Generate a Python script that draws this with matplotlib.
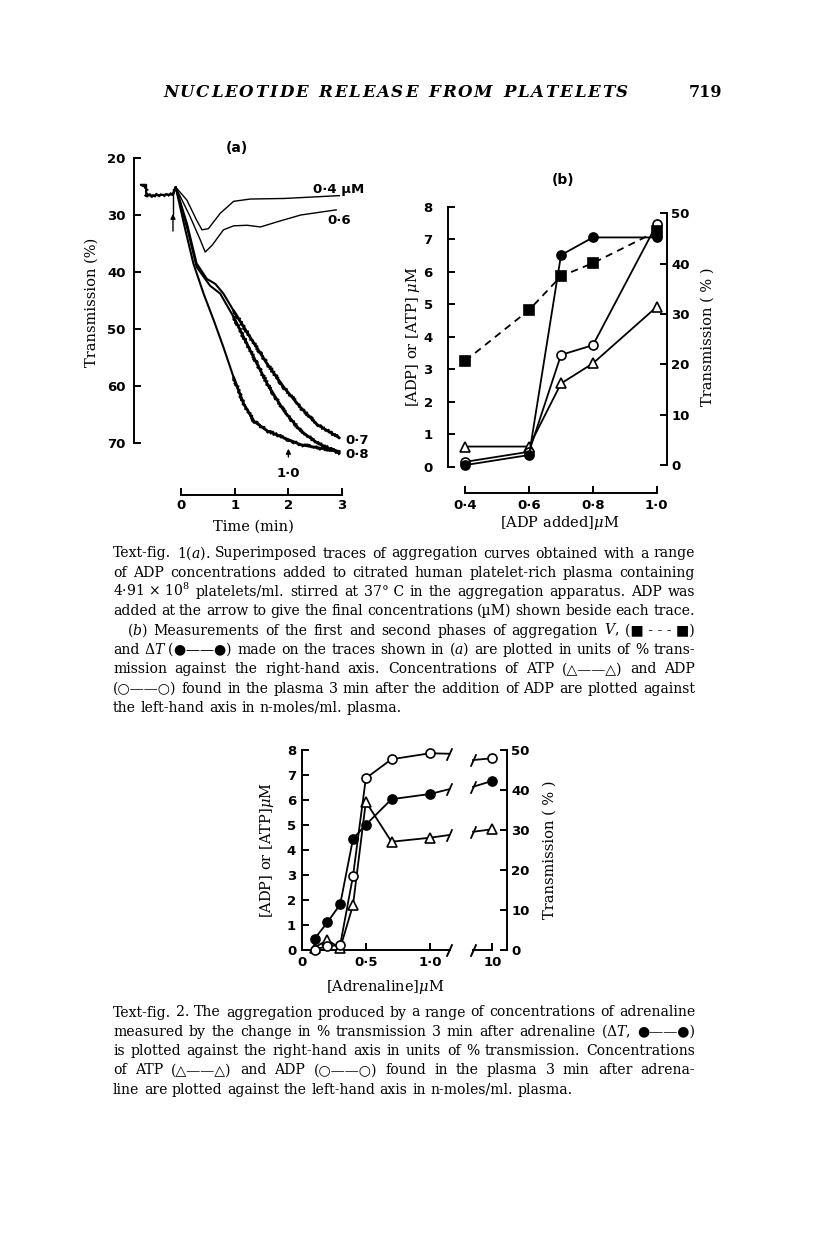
import matplotlib
matplotlib.use("Agg")
import matplotlib.pyplot as plt
import matplotlib.path as mpath

# ---------------- data ----------------
# Text-fig. 1(a): recorder traces, time (min) vs transmission (%)
base_t = [-0.75, -0.65, -0.65, -0.4, -0.15]
base_v = [24.7, 24.7, 26.6, 26.5, 26.4]

t04 = [-0.15, -0.1, 0.11, 0.29, 0.39, 0.51, 0.73, 0.98, 1.29, 1.92, 2.95]
v04 = [26.4, 25.1, 27.4, 30.9, 32.6, 32.4, 29.7, 27.6, 27.2, 27.1, 26.6]
t06 = [-0.15, -0.1, 0.17, 0.36, 0.45, 0.58, 0.79, 0.98, 1.23, 1.48, 1.79, 2.23, 2.89]
v06 = [26.4, 25.1, 30.3, 34.4, 36.5, 35.3, 32.6, 31.9, 31.8, 32.1, 31.2, 30.0, 29.1]
t07 = [-0.15, -0.1, 0.11, 0.29, 0.48, 0.64, 0.79, 0.98, 1.29, 1.61, 1.92, 2.23, 2.54, 2.95]
v07 = [26.4, 25.1, 31.5, 38.5, 41.2, 42.1, 43.8, 46.8, 51.5, 56.2, 60.3, 63.8, 66.8, 69.1]
t08 = [-0.15, -0.1, 0.11, 0.29, 0.54, 0.73, 0.98, 1.29, 1.61, 1.92, 2.23, 2.54, 2.95]
v08 = [26.4, 25.1, 32.1, 39.1, 42.4, 43.8, 47.9, 53.8, 59.7, 64.4, 67.9, 70.0, 71.8]
t10 = [-0.15, -0.1, 0.08, 0.23, 0.42, 0.61, 0.79, 0.98, 1.17, 1.36, 1.61, 1.92, 2.23, 2.95]
v10 = [26.4, 25.1, 32.6, 38.5, 43.8, 48.5, 53.2, 58.5, 63.2, 66.2, 67.9, 69.1, 70.3, 71.5]

a_xticks = [0, 1, 2, 3]
a_xlabels = ["0", "1", "2", "3"]
a_yticks = [20, 30, 40, 50, 60, 70]

# Text-fig. 1(b)
adp_added = [0.4, 0.6, 0.7, 0.8, 1.0]
b_dT = [0.0, 2.0, 41.7, 45.2, 45.2]     # right axis, % transmission
b_V = [20.7, 30.8, 37.5, 40.1, 46.4]    # right axis, % transmission
b_adp = [0.15, 0.46, 3.44, 3.74, 7.46]  # left axis
b_atp = [0.62, 0.62, 2.56, 3.18, 4.92]  # left axis
b_xlabels = ["0·4", "0·6", "0·8", "1·0"]

# Text-fig. 2
adr = [0.1, 0.2, 0.3, 0.4, 0.5, 0.7, 1.0]
adr_hi = 10
f2_dT = [2.8, 6.9, 11.4, 27.8, 31.3, 37.7, 39.0]
f2_dT_hi = 42.3
f2_adp = [0.02, 0.15, 0.2, 2.96, 6.87, 7.63, 7.87]
f2_adp_hi = 7.67
f2_atp = [0.1, 0.4, 0.07, 1.8, 5.93, 4.33, 4.49]
f2_atp_hi = 4.83
# where each line meets the axis break (main side, far side)
f2_dT_cut = [40.2, 40.8]
f2_adp_cut = [7.85, 7.6]
f2_atp_cut = [4.6, 4.73]

cap1 = [
    "Text-fig. 1($\\mathit{a}$). Superimposed traces of aggregation curves obtained with a range",
    "of ADP concentrations added to citrated human platelet-rich plasma containing",
    "4·91\u00a0×\u00a010$^8$ platelets/ml. stirred at 37°\u00a0C in the aggregation apparatus. ADP was",
    "added at the arrow to give the final concentrations (µM) shown beside each trace.",
    "($\\mathit{b}$) Measurements of the first and second phases of aggregation $\\mathit{V}$, (■\u00a0-\u00a0-\u00a0-\u00a0■)",
    "and $\\Delta\\mathit{T}$\u00a0(●——●) made on the traces shown in ($\\mathit{a}$) are plotted in units of % trans-",
    "mission against the right-hand axis. Concentrations of ATP (△——△) and ADP",
    "(○——○) found in the plasma 3 min after the addition of ADP are plotted against",
    "the left-hand axis in n-moles/ml. plasma.",
]
cap2 = [
    "Text-fig. 2. The aggregation produced by a range of concentrations of adrenaline",
    "measured by the change in % transmission 3 min after adrenaline ($\\Delta\\mathit{T}$, ●——●)",
    "is plotted against the right-hand axis in units of % transmission. Concentrations",
    "of ATP (△——△) and ADP (○——○) found in the plasma 3 min after adrena-",
    "line are plotted against the left-hand axis in n-moles/ml. plasma.",
]

# ---------------- drawing ----------------
W, H = 816, 1249
plt.rcParams['mathtext.fontset'] = 'dejavuserif'
plt.rcParams['font.family'] = ['DejaVu Sans']
SERIF = ['DejaVu Serif', 'DejaVu Sans']
TICK = dict(fontsize=9.5, fontweight='bold')

fig = plt.figure(figsize=(W / 100, H / 100), dpi=100)


def box(left, top, right, bottom):
    return fig.add_axes([left / W, 1 - bottom / H, (right - left) / W, (bottom - top) / H])


def style(ax, pad=4):
    for s in ax.spines.values():
        s.set_linewidth(1.4)
    ax.tick_params(direction='in', length=5, width=1.4, pad=pad)
    ax.patch.set_visible(False)


def ftext(x, y, s, **kw):
    return fig.text(x / W, 1 - y / H, s, **kw)


def noisy(ax, tt, vv, lw):
    # pen trace: solid core plus a jittery overlay for the recorder noise
    ax.plot(tt, vv, color='k', lw=lw, solid_capstyle='round', clip_on=False)
    ln, = ax.plot(tt, vv, color='k', lw=1.0, clip_on=False)
    ln.set_sketch_params(scale=1.8, length=1.2, randomness=12)


slash = mpath.Path([(-0.45, -1.0), (0.45, 1.0)])

# ---- panel (a)
ax = box(134, 158, 348, 443)
style(ax, pad=6)
ax.set_xlim(-0.876, 3.11)
ax.set_ylim(70, 20)
ax.spines['top'].set_visible(False)
ax.spines['right'].set_visible(False)
ax.spines['bottom'].set_position(('outward', 37.4))
ax.spines['bottom'].set_bounds(0, 3)
ax.set_xticks(a_xticks)
ax.set_xticklabels(a_xlabels, **TICK)
ax.set_yticks(a_yticks)
ax.set_yticklabels([str(v) for v in a_yticks], **TICK)
ax.tick_params(axis='x', pad=3)

noisy(ax, base_t, base_v, 1.5)
ax.plot(t04, v04, color='k', lw=1.0)
ax.plot(t06, v06, color='k', lw=1.0)
for tt, vv in [(t07, v07), (t08, v08), (t10, v10)]:
    early = [i for i, t in enumerate(tt) if t <= 1.0]
    late = [i for i, t in enumerate(tt) if t >= 0.98]
    ax.plot([tt[i] for i in early], [vv[i] for i in early], color='k', lw=1.5)
    noisy(ax, [tt[i] for i in late], [vv[i] for i in late], 2.0)

# addition arrow
ax.plot([-0.15, -0.15], [25.5, 29.8], color='k', lw=1.0)
ax.annotate('', xy=(-0.15, 29.3), xytext=(-0.15, 33.3),
            arrowprops=dict(arrowstyle='-|>', color='k', lw=1.0, mutation_scale=7))
ax.annotate('1·0', xy=(2.0, 71.0), xytext=(2.0, 75.3), ha='center', va='center',
            fontsize=9.5, fontweight='bold', annotation_clip=False,
            arrowprops=dict(arrowstyle='-|>', color='k', lw=1.0, mutation_scale=7,
                            shrinkA=5, shrinkB=0))
ax.text(2.46, 25.6, "0·4 μM", fontsize=9.5, fontweight='bold', va='center', clip_on=False)
ax.text(2.72, 30.9, "0·6", fontsize=9.5, fontweight='bold', va='center', clip_on=False)
ax.text(3.06, 69.5, "0·7", fontsize=9.5, fontweight='bold', va='center', clip_on=False)
ax.text(3.06, 72.1, "0·8", fontsize=9.5, fontweight='bold', va='center', clip_on=False)

ftext(237, 148, "(a)", fontsize=10, fontweight='bold', ha='center', va='center')
ftext(92, 302, "Transmission (%)", family=SERIF, fontsize=10.5, rotation=90,
      ha='center', va='center')
ftext(253, 527, "Time (min)", family=SERIF, fontsize=10.5, ha='center', va='center')

# ---- panel (b)
axb = box(448, 206.7, 667, 466.7)
style(axb, pad=11)
axb.set_xlim(0.346, 1.032)
axb.set_ylim(0, 8)
axb.spines['top'].set_visible(False)
axb.spines['right'].set_visible(False)
axb.spines['bottom'].set_position(('outward', 19))
axb.spines['bottom'].set_bounds(0.4, 1.0)
axb.set_xticks([0.4, 0.6, 0.8, 1.0])
axb.set_xticklabels(b_xlabels, **TICK)
axb.tick_params(axis='x', pad=4)
axb.set_yticks(range(9))
axb.set_yticklabels([str(v) for v in range(9)], **TICK)

axr = axb.twinx()
style(axr, pad=3)
axr.set_ylim(-0.32, 51.3)
for s in ['top', 'left', 'bottom']:
    axr.spines[s].set_visible(False)
axr.spines['right'].set_bounds(0, 50)
axr.set_yticks(range(0, 51, 10))
axr.set_yticklabels([str(v) for v in range(0, 51, 10)], **TICK)

mk = dict(color='k', lw=1.3, ms=6.5, mew=1.2, clip_on=False)
axr.plot(adp_added, b_V, ls=(0, (4, 3)), marker='s', mfc='k', **mk)
axr.plot(adp_added, b_dT, ls='-', marker='o', mfc='k', **mk)
axb.plot(adp_added, b_atp, ls='-', marker='^', mfc='white', **mk)
axb.plot(adp_added, b_adp, ls='-', marker='o', mfc='white', **mk)

ftext(563, 180, "(b)", fontsize=10, fontweight='bold', ha='center', va='center')
ftext(413, 337, "[ADP] or [ATP] $\\mu$M", family=SERIF, fontsize=10.5, rotation=90,
      ha='center', va='center')
ftext(708, 337, "Transmission ( % )", family=SERIF, fontsize=10.5, rotation=90,
      ha='center', va='center')
ftext(560, 523, "[ADP added]$\\mu$M", family=SERIF, fontsize=10.5, ha='center', va='center')

# ---- Text-fig. 2 (broken x axis)
ax2 = box(301.7, 750, 450, 950)
style(ax2, pad=4)
ax2.set_xlim(0, 1.156)
ax2.set_ylim(0, 8)
ax2.spines['top'].set_visible(False)
ax2.spines['right'].set_visible(False)
ax2.set_xticks([0, 0.5, 1.0])
ax2.set_xticklabels(["0", "0·5", "1·0"], **TICK)
ax2.set_yticks(range(9))
ax2.set_yticklabels([str(v) for v in range(9)], **TICK)
ax2r = ax2.twinx()
ax2r.set_ylim(0, 50)
ax2r.axis('off')

seg = box(471.7, 750, 507, 950)
style(seg, pad=4)
seg.set_xlim(9.411, 10.411)
seg.set_ylim(0, 8)
for s in ['top', 'left', 'right']:
    seg.spines[s].set_visible(False)
seg.spines['bottom'].set_bounds(9.45, 10)
seg.set_xticks([10])
seg.set_xticklabels(["10"], **TICK)
seg.set_yticks([])
segr = seg.twinx()
style(segr, pad=3)
segr.set_ylim(0, 50)
for s in ['top', 'left', 'bottom']:
    segr.spines[s].set_visible(False)
segr.set_yticks(range(0, 51, 10))
segr.set_yticklabels([str(v) for v in range(0, 51, 10)], **TICK)

xb0, xb1 = 1.15, 9.45
mk2 = dict(color='k', lw=1.3, ms=6.5, mew=1.2, clip_on=False, zorder=3)
sl = dict(color='k', lw=1.3, marker=slash, ms=9, mew=1.3, clip_on=False)
for axm, axs, ys, hi, cut, m, fc in [
        (ax2r, segr, f2_dT, f2_dT_hi, f2_dT_cut, 'o', 'k'),
        (ax2, seg, f2_atp, f2_atp_hi, f2_atp_cut, '^', 'white'),
        (ax2, seg, f2_adp, f2_adp_hi, f2_adp_cut, 'o', 'white')]:
    axm.plot([adr[-1], xb0], [ys[-1], cut[0]], markevery=[1], **sl)
    axs.plot([xb1, adr_hi], [cut[1], hi], markevery=[0], **sl)
    axm.plot(adr, ys, marker=m, mfc=fc, **mk2)
    axs.plot([adr_hi], [hi], marker=m, mfc=fc, **mk2)
ax2.plot([xb0], [0], marker=slash, ms=9, mew=1.4, color='k', clip_on=False)
seg.plot([xb1], [0], marker=slash, ms=9, mew=1.4, color='k', clip_on=False)

ftext(267, 850, "[ADP] or [ATP]$\\mu$M", family=SERIF, fontsize=10.5, rotation=90,
      ha='center', va='center')
ftext(550, 850, "Transmission ( % )", family=SERIF, fontsize=10.5, rotation=90,
      ha='center', va='center')
ftext(385, 987, "[Adrenaline]$\\mu$M", family=SERIF, fontsize=10.5, ha='center', va='center')

# ---------------- page text ----------------
renderer = fig.canvas.get_renderer()


def put_line(line, x0, x1, yc, size, justify=True, **kw):
    toks = line.split(' ')
    while True:
        ts = [fig.text(0, 0, tok, fontsize=size, va='baseline', ha='left', **kw)
              for tok in toks]
        ws = [t.get_window_extent(renderer).width for t in ts]
        gap = (x1 - x0 - sum(ws)) / max(len(ts) - 1, 1)
        if gap >= size * 0.3 or not justify:
            break
        for t in ts:
            t.remove()
        size *= 0.98
    if not justify:
        gap = size * 0.45
    x = x0
    for t, w in zip(ts, ws):
        t.set_position((x / W, 1 - (yc + 4.5) / H))
        x += w + gap


def put_spaced(line, x0, x1, yc, size, **kw):
    # letter-spaced running head
    chars = list(line)
    ts, ws = [], []
    for c in chars:
        if c == ' ':
            ts.append(None)
            ws.append(0)
            continue
        t = fig.text(0, 0, c, fontsize=size, va='baseline', ha='left', **kw)
        ts.append(t)
        ws.append(t.get_window_extent(renderer).width)
    nspace = chars.count(' ')
    ngaps = len(chars) - 1 - 2 * nspace
    word_extra = size * 0.6
    g = (x1 - x0 - sum(ws) - nspace * word_extra) / (ngaps + 2 * nspace)
    x = x0
    for c, t, w in zip(chars, ts, ws):
        if t is None:
            x += word_extra + g
            continue
        t.set_position((x / W, 1 - (yc + 5) / H))
        x += w + g


put_spaced("NUCLEOTIDE RELEASE FROM PLATELETS", 163, 628, 92, 12, family=SERIF,
           fontstyle='italic', fontweight='bold')
ftext(722, 92 + 5, "719", family=SERIF, fontsize=11.5, fontweight='bold',
      ha='right', va='baseline')

CX0, CX1, LS, FS = 113, 695, 19.3, 10.1
for i, line in enumerate(cap1):
    x0 = CX0 + 14 if i == 4 else CX0
    put_line(line, x0, CX1, 553 + LS * i, FS, justify=(i != len(cap1) - 1), family=SERIF)
for i, line in enumerate(cap2):
    put_line(line, CX0, CX1, 1012 + LS * i, FS, justify=(i != len(cap2) - 1), family=SERIF)

fig.savefig("out.png", dpi=100)
